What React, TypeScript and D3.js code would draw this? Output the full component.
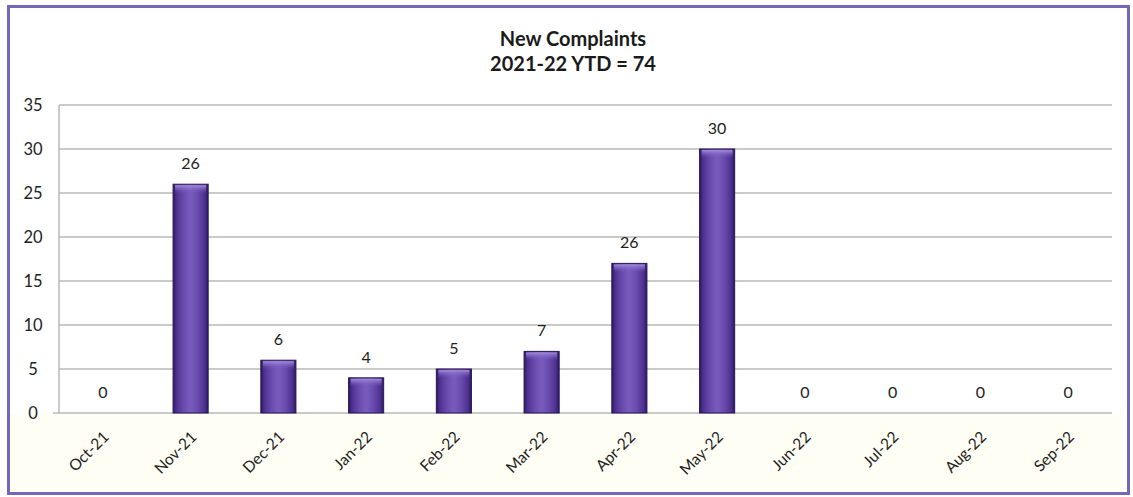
import React, { useEffect, useRef } from "react";
import * as d3 from "d3";

const months = ["Oct-21", "Nov-21", "Dec-21", "Jan-22", "Feb-22", "Mar-22", "Apr-22", "May-22", "Jun-22", "Jul-22", "Aug-22", "Sep-22"];
const barValues = [0, 26, 6, 4, 5, 7, 17, 30, 0, 0, 0, 0];
const barLabels = ["0", "26", "6", "4", "5", "7", "26", "30", "0", "0", "0", "0"];
const yTicks = [0, 5, 10, 15, 20, 25, 30, 35];
const titleLines = ["New Complaints", "2021-22 YTD = 74"];

const width = 1133;
const height = 497;
const margin = { top: 105, right: 21, bottom: 84, left: 59 };
const font = "Lato, 'Open Sans', sans-serif";

const App: React.FC = () => {
  const svgRef = useRef<SVGSVGElement>(null);

  useEffect(() => {
    if (!svgRef.current) return;
    const svg = d3.select(svgRef.current);
    svg.selectAll("*").remove();

    const x = d3.scaleBand<string>()
      .domain(months)
      .range([margin.left, width - margin.right])
      .paddingInner(0.6)
      .paddingOuter(0.3);

    const y = d3.scaleLinear()
      .domain([0, 35])
      .range([height - margin.bottom, margin.top]);

    // gradient for the bars
    const defs = svg.append("defs");
    const grad = defs.append("linearGradient").attr("id", "barGrad").attr("x1", "0").attr("x2", "1").attr("y1", "0").attr("y2", "0");
    [
      [0, "#2c1860"], [0.1, "#4d3190"], [0.3, "#6a4bad"], [0.5, "#785cbd"],
      [0.7, "#6a4bad"], [0.9, "#4d3190"], [1, "#2c1860"],
    ].forEach(([o, c]) => grad.append("stop").attr("offset", o as number).attr("stop-color", c as string));
    const topGrad = defs.append("linearGradient").attr("id", "topGrad").attr("x1", "0").attr("x2", "0").attr("y1", "0").attr("y2", "1");
    topGrad.append("stop").attr("offset", 0).attr("stop-color", "#a28cdc");
    topGrad.append("stop").attr("offset", 1).attr("stop-color", "#7457b8").attr("stop-opacity", 0);

    // background
    svg.append("rect").attr("x", 0).attr("y", 0).attr("width", width).attr("height", height).attr("fill", "#ffffff");
    svg.append("rect")
      .attr("x", 10).attr("y", y(0) + 1)
      .attr("width", width - 22).attr("height", height - y(0) - 5)
      .attr("fill", "#fffef5");

    // gridlines
    svg.append("g")
      .selectAll("line")
      .data(yTicks)
      .join("line")
      .attr("x1", d => (d === 0 ? margin.left - 6 : margin.left))
      .attr("x2", width - margin.right)
      .attr("y1", d => y(d))
      .attr("y2", d => y(d))
      .attr("stroke", "#b8b8b8")
      .attr("stroke-width", 1.5);

    svg.append("line")
      .attr("x1", margin.left).attr("x2", margin.left)
      .attr("y1", y(35)).attr("y2", y(0))
      .attr("stroke", "#b8b8b8").attr("stroke-width", 1.5);

    // y tick labels
    svg.append("g")
      .selectAll("text")
      .data(yTicks)
      .join("text")
      .attr("x", 33)
      .attr("y", d => y(d))
      .attr("dy", "0.36em")
      .attr("text-anchor", "middle")
      .attr("font-family", font)
      .attr("font-size", 16.5)
      .attr("fill", "#222")
      .text(d => d);

    // bars
    const bars = svg.append("g");
    months.forEach((m, i) => {
      const v = barValues[i];
      if (v <= 0) return;
      const bx = x(m)!;
      const bw = x.bandwidth();
      const by = y(v);
      const bh = y(0) - by;
      bars.append("rect")
        .attr("x", bx).attr("y", by).attr("width", bw).attr("height", bh)
        .attr("fill", "url(#barGrad)")
        .attr("stroke", "#2a1758").attr("stroke-width", 1);
      bars.append("rect")
        .attr("x", bx + 2).attr("y", by + 1).attr("width", bw - 4).attr("height", Math.min(8, bh - 1))
        .attr("fill", "url(#topGrad)");
    });

    // value labels
    svg.append("g")
      .selectAll("text")
      .data(months)
      .join("text")
      .attr("x", d => x(d)! + x.bandwidth() / 2)
      .attr("y", (d, i) => y(barValues[i]) - 21)
      .attr("dy", "0.36em")
      .attr("text-anchor", "middle")
      .attr("font-family", font)
      .attr("font-size", 16)
      .attr("fill", "#222")
      .text((d, i) => barLabels[i]);

    // x labels
    svg.append("g")
      .selectAll("text")
      .data(months)
      .join("text")
      .attr("transform", d => `translate(${x(d)! + x.bandwidth() / 2 + 3},${y(0) + 21}) rotate(-45)`)
      .attr("text-anchor", "end")
      .attr("dy", "0.36em")
      .attr("font-family", font)
      .attr("font-size", 15.5)
      .attr("fill", "#222")
      .text(d => d);

    // title
    svg.append("g")
      .selectAll("text")
      .data(titleLines)
      .join("text")
      .attr("x", 573)
      .attr("y", (d, i) => 39 + i * 25)
      .attr("dy", "0.36em")
      .attr("text-anchor", "middle")
      .attr("font-family", font)
      .attr("font-weight", "bold")
      .attr("font-size", 20)
      .attr("fill", "#1a1a1a")
      .text(d => d);

    // frame
    svg.append("rect")
      .attr("x", 8.5).attr("y", 6.5)
      .attr("width", 1120).attr("height", 487)
      .attr("fill", "none")
      .attr("stroke", "#7566b8")
      .attr("stroke-width", 3);
  }, []);

  return (
    <svg
      ref={svgRef}
      width={width}
      height={height}
      style={{ position: "absolute", left: 0, top: 0 }}
    />
  );
};

export default App;
